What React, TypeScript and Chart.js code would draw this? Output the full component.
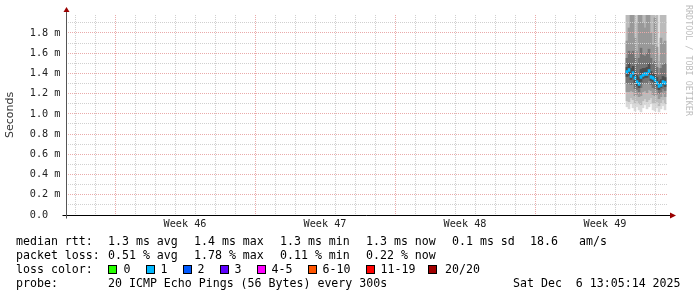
import { useEffect, useRef } from "react";
import { Chart, registerables } from "chart.js";

Chart.register(...registerables);

// ---- time axis (days since Monday of week 46) ----
const slotDays = [25.6, 25.7, 25.8, 25.9, 26.0, 26.1, 26.2, 26.3, 26.4, 26.5, 26.6, 26.7, 26.8, 26.9, 27.0, 27.1, 27.2, 27.3, 27.4, 27.5];
const weekStarts = [0, 7, 14, 21];
const weekLabels = ["Week 46", "Week 47", "Week 48", "Week 49"];
const dayGrid = [-2, -1, 0, 1, 2, 3, 4, 5, 6, 7, 8, 9, 10, 11, 12, 13, 14, 15, 16, 17, 18, 19, 20, 21, 22, 23, 24, 25, 26, 27];
const xMin = -2.45;
const xMax = 27.65;

// ---- value axis (milliseconds) ----
const yTickValues = [0, 0.1, 0.2, 0.3, 0.4, 0.5, 0.6, 0.7, 0.8, 0.9, 1.0, 1.1, 1.2, 1.3, 1.4, 1.5, 1.6, 1.7, 1.8, 1.9];
const yTickLabels = ["0.0  ", "", "0.2 m", "", "0.4 m", "", "0.6 m", "", "0.8 m", "", "1.0 m", "", "1.2 m", "", "1.4 m", "", "1.6 m", "", "1.8 m", ""];
const yMax = 1.978;

// ---- ping distribution per slot (ms), sorted ping ranks ----
const pingMin = [1.07, 1.05, 1.10, 1.06, 1.03, 1.07, 1.04, 1.02, 1.06, 1.09, 1.05, 1.07, 1.10, 1.04, 1.03, 1.06, 1.02, 1.05, 1.08, 1.04];
const ping2 = [1.13, 1.12, 1.16, 1.14, 1.10, 1.13, 1.10, 1.09, 1.13, 1.15, 1.12, 1.14, 1.16, 1.11, 1.10, 1.12, 1.08, 1.11, 1.14, 1.10];
const ping4 = [1.22, 1.22, 1.23, 1.22, 1.18, 1.19, 1.17, 1.18, 1.22, 1.23, 1.21, 1.24, 1.23, 1.19, 1.18, 1.19, 1.15, 1.17, 1.20, 1.17];
const ping6 = [1.30, 1.31, 1.29, 1.30, 1.25, 1.24, 1.22, 1.26, 1.30, 1.31, 1.30, 1.33, 1.29, 1.26, 1.25, 1.24, 1.20, 1.22, 1.25, 1.23];
const ping8 = [1.37, 1.38, 1.34, 1.36, 1.31, 1.28, 1.26, 1.32, 1.35, 1.36, 1.36, 1.39, 1.33, 1.32, 1.30, 1.28, 1.24, 1.26, 1.29, 1.27];
const ping12 = [1.46, 1.50, 1.45, 1.47, 1.42, 1.38, 1.36, 1.44, 1.45, 1.45, 1.46, 1.50, 1.42, 1.40, 1.39, 1.36, 1.32, 1.34, 1.37, 1.36];
const ping14 = [1.55, 1.62, 1.60, 1.62, 1.55, 1.50, 1.55, 1.65, 1.58, 1.57, 1.60, 1.64, 1.55, 1.50, 1.52, 1.46, 1.38, 1.45, 1.48, 1.50];
const ping16 = [1.72, 1.85, 2.10, 2.20, 1.75, 1.62, 2.30, 2.20, 1.90, 1.85, 2.10, 2.20, 1.80, 1.68, 1.95, 1.66, 1.45, 1.75, 1.70, 1.72];
const ping18 = [2.50, 2.60, 2.80, 2.90, 2.40, 1.90, 3.00, 3.00, 2.60, 2.50, 2.80, 2.90, 2.40, 2.10, 2.70, 2.20, 1.52, 2.40, 2.30, 2.30];
const pingMax = [3.00, 3.00, 3.20, 3.30, 3.00, 2.30, 3.50, 3.50, 3.20, 3.00, 3.20, 3.30, 3.00, 2.70, 3.20, 2.90, 1.58, 3.00, 2.90, 2.90];
const median = [1.414, 1.434, 1.375, 1.404, 1.355, 1.315, 1.296, 1.365, 1.385, 1.395, 1.395, 1.424, 1.365, 1.355, 1.335, 1.306, 1.276, 1.286, 1.315, 1.306];

// ---- legend texts ----
const rttStats = ["1.3 ms avg", "1.4 ms max", "1.3 ms min", "1.3 ms now", "0.1 ms sd", "18.6", "am/s"];
const lossStats = ["0.51 % avg", "1.78 % max", "0.11 % min", "0.22 % now"];
const lossLabels = ["0", "1", "2", "3", "4-5", "6-10", "11-19", "20/20"];
const lossColors = ["#26ff00", "#00b8ff", "#0059ff", "#5e00ff", "#ff00ff", "#ff5500", "#ff0000", "#a10000"];
const probeText = "20 ICMP Echo Pings (56 Bytes) every 300s";
const dateText = "Sat Dec  6 13:05:14 2025";

const MONO = '"DejaVu Sans Mono", monospace';
const MAJOR = "#eaaaaa";
const MINOR = "#d0d0d0";

const band = (lo: number[], hi: number[]) => slotDays.map((d, i) => ({ x: d, y: [lo[i], hi[i]] }));

const rrdPlugin = {
  id: "rrdDecor",
  afterDraw(chart: any) {
    const { ctx, chartArea: a } = chart;
    ctx.save();
    const x0 = Math.round(a.left) + 0.5;
    const y0 = Math.round(a.bottom) + 0.5;
    ctx.lineWidth = 1;
    ctx.setLineDash([]);
    // x axis
    ctx.strokeStyle = "#000";
    ctx.beginPath();
    ctx.moveTo(x0 - 4, y0);
    ctx.lineTo(a.right + 3, y0);
    ctx.stroke();
    // y axis
    ctx.strokeStyle = "#555";
    ctx.beginPath();
    ctx.moveTo(x0, y0 + 3);
    ctx.lineTo(x0, a.top - 4);
    ctx.stroke();
    // arrows
    ctx.fillStyle = "#9a0000";
    ctx.beginPath();
    ctx.moveTo(x0, a.top - 8);
    ctx.lineTo(x0 - 3, a.top - 3);
    ctx.lineTo(x0 + 3, a.top - 3);
    ctx.closePath();
    ctx.fill();
    ctx.beginPath();
    ctx.moveTo(a.right + 8, y0);
    ctx.lineTo(a.right + 2, y0 - 3);
    ctx.lineTo(a.right + 2, y0 + 3);
    ctx.closePath();
    ctx.fill();
    // watermark
    ctx.translate(688, 5);
    ctx.rotate(Math.PI / 2);
    ctx.fillStyle = "#bdbdbd";
    ctx.font = `8.4px ${MONO}`;
    ctx.textBaseline = "middle";
    ctx.textAlign = "left";
    ctx.fillText("RRDTOOL / TOBI OETIKER", 0, 0);
    ctx.restore();
  },
};

export default function App() {
  const ref = useRef<HTMLCanvasElement>(null);

  useEffect(() => {
    const barCommon = {
      grouped: false,
      barPercentage: 1,
      categoryPercentage: 1,
      borderWidth: 0,
      borderSkipped: false,
    };
    const chart = new Chart(ref.current!, {
      type: "bar",
      data: {
        datasets: [
          {
            ...barCommon,
            label: "median",
            order: 0,
            data: slotDays.map((d, i) => ({ x: d, y: [median[i] - 0.014, median[i] + 0.014] })),
            backgroundColor: "#00b8ff",
          },
          { ...barCommon, label: "smoke4", order: 1, data: band(ping8, ping12), backgroundColor: "#4e4e4e" },
          { ...barCommon, label: "smoke3", order: 2, data: band(ping6, ping14), backgroundColor: "#747474" },
          { ...barCommon, label: "smoke2", order: 3, data: band(ping4, ping16), backgroundColor: "#999999" },
          { ...barCommon, label: "smoke1", order: 4, data: band(ping2, ping18), backgroundColor: "#bbbbbb" },
          { ...barCommon, label: "smoke0", order: 5, data: band(pingMin, pingMax), backgroundColor: "#dadada" },
        ] as any,
      },
      options: {
        responsive: false,
        animation: false,
        devicePixelRatio: 1,
        layout: { padding: { left: 0, top: 15, right: 29, bottom: 62 } },
        plugins: { legend: { display: false }, tooltip: { enabled: false } },
        scales: {
          x: {
            type: "linear",
            min: xMin,
            max: xMax,
            offset: false,
            border: { display: false, dash: [1, 1] },
            grid: {
              z: 1,
              offset: false,
              drawTicks: false,
              lineWidth: 1,
              color: (c: any) => {
                const v = c.tick ? c.tick.value : 0;
                if (Math.abs(v - Math.round(v)) > 1e-6) return "rgba(0,0,0,0)";
                if (weekStarts.includes(Math.round(v))) return MAJOR;
                return MINOR;
              },
            },
            ticks: {
              autoSkip: false,
              maxRotation: 0,
              minRotation: 0,
              padding: 3,
              color: "#222",
              font: { family: MONO, size: 10.2 },
              callback: (v: any) => {
                const idx = weekStarts.findIndex((w) => Math.abs(w + 3.5 - Number(v)) < 1e-6);
                return idx >= 0 ? weekLabels[idx] : "";
              },
            },
            afterBuildTicks: (scale: any) => {
              const vals = [...dayGrid, ...weekStarts.map((w) => w + 3.5)].sort((a, b) => a - b);
              scale.ticks = vals.map((v) => ({ value: v }));
            },
            afterFit: (scale: any) => {
              scale.height = 20;
            },
          },
          y: {
            type: "linear",
            min: 0,
            max: yMax,
            border: { display: false, dash: [1, 1] },
            grid: {
              z: 1,
              drawTicks: false,
              lineWidth: 1,
              color: (c: any) => {
                const i = c.index ?? 0;
                if (i === 0) return "rgba(0,0,0,0)";
                return i % 2 === 0 ? MAJOR : MINOR;
              },
            },
            ticks: {
              autoSkip: false,
              padding: 5.5,
              color: "#222",
              font: { family: MONO, size: 10.2 },
              callback: (_v: any, i: number) => yTickLabels[i] ?? "",
            },
            title: {
              display: true,
              text: "Seconds",
              color: "#333",
              padding: { top: 4, bottom: 0 },
              font: { family: '"DejaVu Sans", sans-serif', size: 11 },
            },
            afterBuildTicks: (scale: any) => {
              scale.ticks = yTickValues.map((v) => ({ value: v }));
            },
            afterFit: (scale: any) => {
              scale.width = 66;
            },
          },
        },
      } as any,
      plugins: [rrdPlugin],
    });
    return () => chart.destroy();
  }, []);

  const text = (s: string, left: number, top: number, key?: string | number) => (
    <span key={key} style={{ position: "absolute", left, top, whiteSpace: "pre" }}>
      {s}
    </span>
  );

  const rttX = [108, 194, 280, 366, 452, 530, 579];
  const lossX = [108, 194, 280, 366];
  const boxX = [108, 146, 183, 220, 257, 308, 366, 428];
  const lblX = [123.5, 160.5, 197.5, 234.5, 271.5, 322.5, 380.5, 445];
  const rowTop = [234, 248, 262, 276];

  return (
    <div style={{ position: "fixed", left: 0, top: 0, width: 697, height: 297, background: "#fff", overflow: "hidden" }}>
      <canvas ref={ref} width={697} height={297} style={{ position: "absolute", left: 0, top: 0, width: 697, height: 297 }} />
      <div style={{ position: "absolute", left: 0, top: 0, width: 697, height: 297, fontFamily: MONO, fontSize: 11.6, lineHeight: "14px", color: "#000" }}>
        {text("median rtt:", 16, rowTop[0])}
        {rttStats.map((s, i) => text(s, rttX[i], rowTop[0], "r" + i))}
        {text("packet loss:", 16, rowTop[1])}
        {lossStats.map((s, i) => text(s, lossX[i], rowTop[1], "l" + i))}
        {text("loss color:", 16, rowTop[2])}
        {lossColors.map((c, i) => (
          <span
            key={"b" + i}
            style={{ position: "absolute", left: boxX[i], top: rowTop[2] + 2.5, width: 9, height: 9, boxSizing: "border-box", border: "1px solid #000", background: c }}
          />
        ))}
        {lossLabels.map((s, i) => text(s, lblX[i], rowTop[2], "t" + i))}
        {text("probe:", 16, rowTop[3])}
        {text(probeText, 108, rowTop[3])}
        {text(dateText, 513, rowTop[3])}
      </div>
    </div>
  );
}
